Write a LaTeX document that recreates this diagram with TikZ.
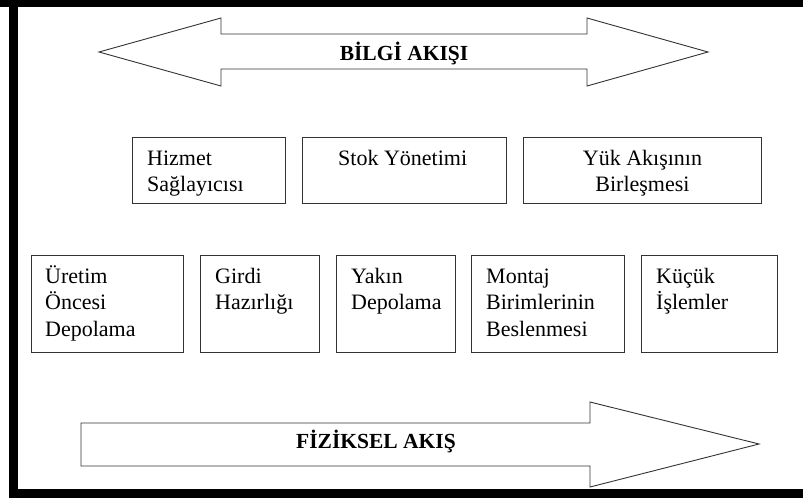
\documentclass[tikz,border=0pt]{standalone}
\usepackage{fontspec}
\setmainfont{Liberation Serif}
\usetikzlibrary{calc}
\newcommand{\toplines}[2][l]{\begin{tabular}[t]{@{}#1@{}}#2\end{tabular}}
\begin{document}
\begin{tikzpicture}[x=1pt,y=-1pt,
  box/.style={draw=black!80, line width=0.9pt, anchor=north west, inner sep=0pt},
  txt/.style={anchor=base west, inner sep=0pt, font=\fontsize{22}{26.5}\selectfont},
  ctxt/.style={anchor=base, inner sep=0pt, font=\fontsize{22}{26.5}\selectfont},
  flow/.style={draw=black!80, line width=0.9pt, fill=white, line join=miter},
  flowlabel/.style={anchor=base, inner sep=0pt, font=\fontsize{21.5}{25}\selectfont\bfseries}]
\useasboundingbox (0,0) rectangle (803,501);
% frame
\fill[black] (0,0) rectangle (803,7);
\fill[black] (9,0) rectangle (18,498);
\fill[black] (9,489) rectangle (803,498);
% information flow arrow
\draw[flow] (99,52) -- (221,18) -- (221,34) -- (587,34) -- (587,18) -- (708,52)
  -- (587,86) -- (587,69) -- (221,69) -- (221,86) -- cycle;
\node[flowlabel] (bilgi) at (404,60) {BİLGİ AKIŞI};
% physical flow arrow
\draw[flow] (81,423) -- (590,423) -- (590,402) -- (759,444) -- (590,487)
  -- (590,466) -- (81,466) -- cycle;
\node[flowlabel] (fiziksel) at (376,448) {FİZİKSEL AKIŞ};
% upper row
\node[box, minimum width=153pt, minimum height=66pt] (hizmet) at (132,137) {};
\node[box, minimum width=204pt, minimum height=66pt] (stok) at (302,137) {};
\node[box, minimum width=238pt, minimum height=66pt] (yuk) at (523,137) {};
\node[txt] (hizmetT) at ($(hizmet.north west)+(15,28)$) {\toplines{Hizmet\\Sağlayıcısı}};
\node[txt] (stokT) at ($(stok.north west)+(36,28)$) {Stok Yönetimi};
\node[ctxt] (yukT) at ($(yuk.north)+(0,28)$) {\toplines[c]{Yük Akışının\\Birleşmesi}};
% lower row
\node[box, minimum width=152pt, minimum height=97pt] (uretim) at (31,255) {};
\node[box, minimum width=119pt, minimum height=97pt] (girdi) at (200,255) {};
\node[box, minimum width=119pt, minimum height=97pt] (yakin) at (336,255) {};
\node[box, minimum width=153pt, minimum height=97pt] (montaj) at (471,255) {};
\node[box, minimum width=136pt, minimum height=97pt] (kucuk) at (641,255) {};
\node[txt] (uretimT) at ($(uretim.north west)+(14,28)$) {\toplines{Üretim\\Öncesi\\Depolama}};
\node[txt] (girdiT) at ($(girdi.north west)+(15,28)$) {\toplines{Girdi\\Hazırlığı}};
\node[txt] (yakinT) at ($(yakin.north west)+(15,28)$) {\toplines{Yakın\\Depolama}};
\node[txt] (montajT) at ($(montaj.north west)+(15,28)$) {\toplines{Montaj\\Birimlerinin\\Beslenmesi}};
\node[txt] (kucukT) at ($(kucuk.north west)+(15,28)$) {\toplines{Küçük\\İşlemler}};
\end{tikzpicture}
\end{document}
